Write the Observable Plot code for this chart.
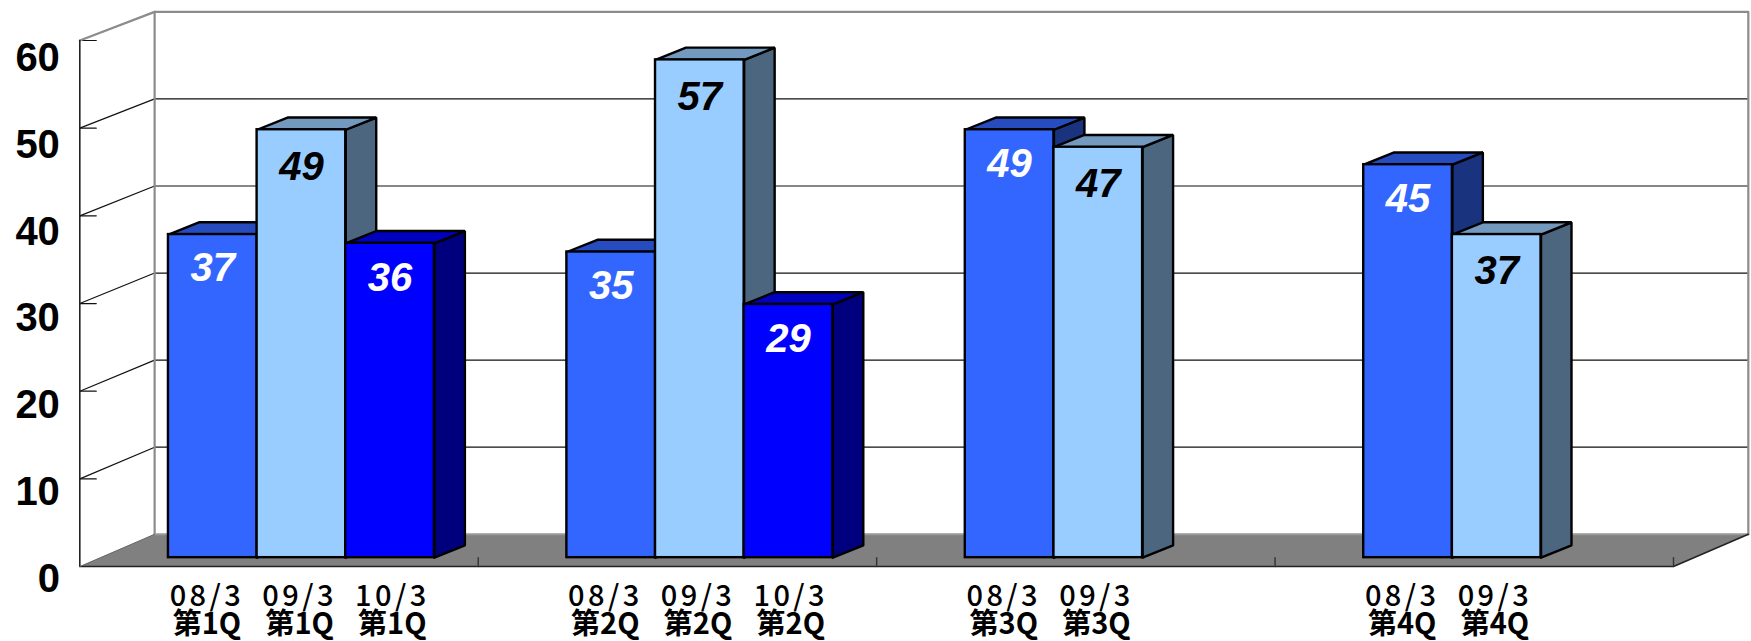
<!DOCTYPE html>
<html><head><meta charset="utf-8">
<style>html,body{margin:0;padding:0;background:#fff}svg{display:block}
.year-label{letter-spacing:3.4px}</style>
<script src="https://cdn.jsdelivr.net/npm/d3@7"></script>
<script src="https://cdn.jsdelivr.net/npm/@observablehq/plot@0.6"></script>
</head><body><div id="chart"></div>
<script>
const quarters = ["第1Q","第2Q","第3Q","第4Q"];
const years = ["08/3","09/3","10/3"];
const values08 = [37,35,49,45];
const values09 = [49,57,47,37];
const values10 = [36,29];
const yTicks = [0,10,20,30,40,50,60];
const quarterEdges = [1,2,3,4];
const series = [values08, values09, values10];
const fronts = ["#3366FF","#99CCFF","#0000FF"];
const tops = ["#264CBF","#7399BF","#0000BF"];
const sides = ["#19337F","#4C667F","#00007F"];
const inkLabel = ["#fff","#000","#fff"];
const labelDrop = [3.9,4.25,4.0];

// layout expressed in the units of the chart scales
const barW = 0.2225, barStart = 0.2225, labelStart = 0.319, labelStep = 0.2327;
const barDx = 0.0765, barDy = 1.4;
const wallDx = 0.1878, floorFront = -1.02, floorBack = 2.68, backK = 0.997;
const frontK = 1.004;
const frontY = v => floorFront + frontK * v;
const backY = v => floorBack + backK * v;
const poly = (pts, o) => Plot.line([...pts, pts[0]], {x: d => d[0], y: d => d[1], strokeLinejoin: "miter", ...o});
const seg = (pts, stroke, strokeWidth) => Plot.line(pts, {x: d => d[0], y: d => d[1], stroke, strokeWidth});

const bars = [];
series.forEach((vals, s) => vals.forEach((v, q) => {
  const x1 = q + barStart + s * barW;
  bars.push({v, q, s, x1, x2: x1 + barW});
}));
bars.sort((a, b) => a.x1 - b.x1);

const wall = [
  poly([[0, frontY(0)], [4, frontY(0)], [4 + wallDx, backY(0)], [wallDx, backY(0)]], {fill: "#808080", stroke: "none"}),
  ...yTicks.filter(v => v > 0 && v < 60).map(v => seg([[wallDx, backY(v)], [4 + wallDx, backY(v)]], "#111", 1.2)),
  ...yTicks.filter(v => v > 0 && v < 60).map(v => seg([[0, frontY(v)], [wallDx, backY(v)]], "#111", 1.2)),
  ...yTicks.filter(v => v > 0).map(v => seg([[0, frontY(v)], [0.0413, frontY(v)]], "#111", 1.2)),
  seg([[wallDx, backY(0)], [wallDx, backY(60)], [4 + wallDx, backY(60)], [4 + wallDx, backY(0)]], "#8c8c8c", 2.2),
  seg([[wallDx, backY(0)], [4 + wallDx, backY(0)]], "#999", 2),
  seg([[0, frontY(60)], [wallDx, backY(60)]], "#8c8c8c", 2.2),
  seg([[0, frontY(60)], [0, frontY(0)], [4, frontY(0)], [4 + wallDx, backY(0)]], "#222", 1.6),
  seg([[0, frontY(0)], [wallDx, backY(0)]], "#666", 1),
  ...quarterEdges.map(e => seg([[e, frontY(0)], [e, frontY(1)]], "#333", 1.4))
];

const barMarks = bars.flatMap(b => [
  poly([[b.x2, 0], [b.x2 + barDx, barDy], [b.x2 + barDx, b.v + barDy], [b.x2, b.v]], {fill: sides[b.s], stroke: "#000", strokeWidth: 2.4}),
  poly([[b.x1, b.v], [b.x1 + barDx, b.v + barDy], [b.x2 + barDx, b.v + barDy], [b.x2, b.v]], {fill: tops[b.s], stroke: "#000", strokeWidth: 2.4}),
  Plot.rect([b], {x1: "x1", x2: "x2", y1: 0, y2: "v", fill: fronts[b.s], stroke: "#000", strokeWidth: 2.4})
]);

const cjk = {fill: "#000", fontFamily: "Noto Sans CJK JP, sans-serif"};
const labels = [
  Plot.text(bars, {x: d => (d.x1 + d.x2) / 2, y: d => d.v - labelDrop[d.s], text: d => String(d.v), fill: d => inkLabel[d.s],
    fontFamily: "Liberation Sans, Arial, sans-serif", fontWeight: "bold", fontStyle: "italic", fontSize: 40}),
  Plot.text(yTicks, {x: -0.05, y: d => 0.9936 * d - 2.42, text: d => String(d), textAnchor: "end", fill: "#000",
    fontFamily: "Liberation Sans, Arial, sans-serif", fontWeight: "bold", fontSize: 40}),
  Plot.text(bars, {x: d => d.q + labelStart + d.s * labelStep, y: -4.47, text: d => years[d.s], ...cjk, fontWeight: 500, fontSize: 29, className: "year-label"}),
  Plot.text(bars, {x: d => d.q + labelStart + d.s * labelStep, y: -7.67, text: d => quarters[d.q], ...cjk, fontWeight: 700, fontSize: 29})
];

const chart = Plot.plot({
  width: 1751, height: 641,
  marginTop: 0, marginRight: 0, marginBottom: 0, marginLeft: 0,
  x: {type: "linear", domain: [0, 4], range: [79.3, 1673], axis: null},
  y: {type: "linear", domain: [-9.6, 63.8], range: [641, 0], axis: null},
  marks: [...wall, ...barMarks, ...labels]
});
document.getElementById("chart").append(chart);
</script></body></html>
